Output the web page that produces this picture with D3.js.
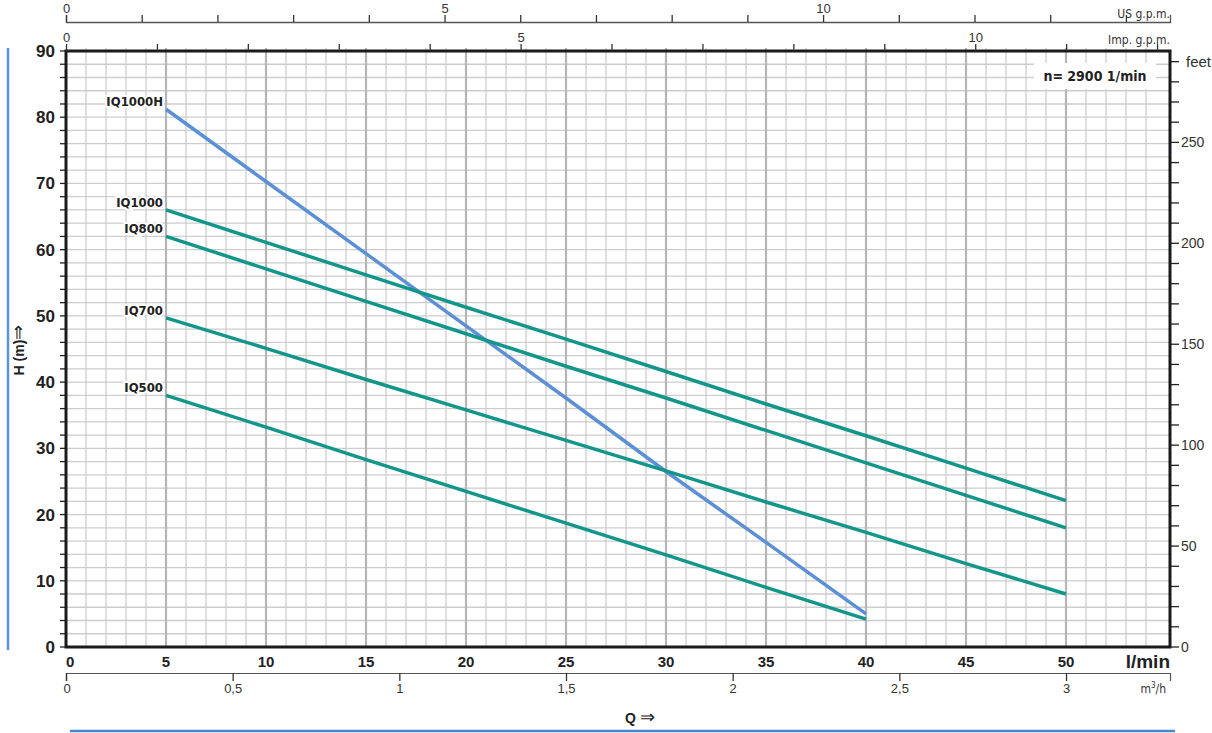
<!DOCTYPE html>
<head>
    <meta charset="utf-8">
    <title>Pump curves</title>
    <script src="https://d3js.org/d3.v7.min.js"></script>
    <style>
        body { margin: 0; background: #fff; }
        text { font-family: "Liberation Sans", Arial, sans-serif; fill: #222; }
        .narrow { font-family: "Liberation Sans Narrow", "DejaVu Sans Condensed", "Liberation Sans", sans-serif; }
    </style>
</head>
<body>
    <div id="container"></div>
    <script>
        //------------------------1. DATA------------------------//
        var flow = [5, 10, 15, 20, 25, 30, 35, 40, 45, 50]     // l/min
        var iq1000h = [81.2, 70.3, 59.4, 48.5, 37.6, 26.5, 15.8, 5.0]
        var iq1000 = [66.0, 61.1, 56.2, 51.3, 46.5, 41.6, 36.7, 31.9, 27.0, 22.1]
        var iq800 = [62.0, 57.1, 52.2, 47.3, 42.4, 37.6, 32.7, 27.8, 22.9, 18.0]
        var iq700 = [49.7, 45.1, 40.4, 35.8, 31.2, 26.6, 21.9, 17.3, 12.6, 8.0]
        var iq500 = [38.0, 33.2, 28.3, 23.5, 18.7, 13.9, 9.0, 4.2]
        var seriesNames = ["IQ1000H", "IQ1000", "IQ800", "IQ700", "IQ500"]
        var seriesValues = [iq1000h, iq1000, iq800, iq700, iq500]
        var seriesColors = ["#5b8fd6", "#12968a", "#12968a", "#12968a", "#12968a"]

        var lminTicks = [0, 5, 10, 15, 20, 25, 30, 35, 40, 45, 50]
        var headTicks = [0, 10, 20, 30, 40, 50, 60, 70, 80, 90]
        var feetLabels = [0, 50, 100, 150, 200, 250]
        var m3hTicks = [0, 0.5, 1, 1.5, 2, 2.5, 3]
        var gpmLabels = [0, 5, 10]

        //------------------------2. SVG------------------------//
        var W = 1212, H = 733
        var margin = { top: 51, right: 42, bottom: 86, left: 66 },
            width = W - margin.left - margin.right,
            height = H - margin.top - margin.bottom

        var qMax = 55.2
        var x = d3.scaleLinear().domain([0, qMax]).range([0, width])
        var y = d3.scaleLinear().domain([0, 90]).range([height, 0])
        var yFeet = d3.scaleLinear().domain([0, 90 / 0.3048]).range([height, 0])
        var xUS = d3.scaleLinear().domain([0, qMax / 3.78541]).range([0, width])
        var xImp = d3.scaleLinear().domain([0, qMax / 4.54609]).range([0, width])
        var xM3 = d3.scaleLinear().domain([0, qMax / 16.6667]).range([0, width])

        var svg = d3.select("#container").append("svg").attr("width", W).attr("height", H)
        var g = svg.append("g").attr("transform", "translate(" + margin.left + "," + margin.top + ")")

        //------------------------3. GRID------------------------//
        var grid = g.append("g")
        grid.selectAll(".hg").data(d3.range(0, 91, 2)).enter().append("line")
            .attr("x1", 0).attr("x2", width)
            .attr("y1", function (d) { return y(d) }).attr("y2", function (d) { return y(d) })
            .attr("stroke", "#cdcdcd").attr("stroke-width", 1.3)
        grid.selectAll(".vg").data(d3.range(1, 55)).enter().append("line")
            .attr("x1", function (d) { return x(d) }).attr("x2", function (d) { return x(d) })
            .attr("y1", -3).attr("y2", height)
            .attr("stroke", function (d) { return d % 5 === 0 ? "#b5b5b5" : "#cdcdcd" })
            .attr("stroke-width", function (d) { return d % 5 === 0 ? 2.2 : 1.3 })

        // speed box
        g.append("rect").attr("x", x(48.4)).attr("y", 12).attr("width", 122).attr("height", 26).attr("fill", "#fff")
        g.append("text").attr("class", "narrow").attr("x", x(48.4) + 61).attr("y", 30)
            .attr("text-anchor", "middle").style("font-weight", "bold").style("font-size", "14px")
            .text("n= 2900  1/min")

        //------------------------4. CURVES------------------------//
        var line = d3.line().x(function (d) { return x(d[0]) }).y(function (d) { return y(d[1]) })
        seriesValues.forEach(function (vals, i) {
            var pts = vals.map(function (v, j) { return [flow[j], v] })
            g.append("path").datum(pts)
                .attr("d", line).attr("fill", "none")
                .attr("stroke", seriesColors[i]).attr("stroke-width", 3.5)
            g.append("text").attr("class", "narrow")
                .attr("x", x(flow[0]) - 3).attr("y", y(vals[0]) - 3)
                .attr("text-anchor", "end")
                .style("font-weight", "bold").style("font-size", "13px")
                .style("paint-order", "stroke").attr("stroke", "#fff").attr("stroke-width", 4)
                .text(seriesNames[i])
        })

        //------------------------5. AXES------------------------//
        // left head axis
        g.selectAll(".lt").data(d3.range(0, 91, 2)).enter().append("line")
            .attr("x1", -6).attr("x2", 0)
            .attr("y1", function (d) { return y(d) }).attr("y2", function (d) { return y(d) })
            .attr("stroke", "#222").attr("stroke-width", 1.3)
        g.selectAll(".ll").data(headTicks).enter().append("text")
            .attr("x", -11).attr("y", function (d) { return y(d) + 6 })
            .attr("text-anchor", "end").style("font-weight", "bold").style("font-size", "17px")
            .text(function (d) { return d })

        // right feet axis
        var rAxis = g.append("g").attr("transform", "translate(" + width + ",0)")
        rAxis.selectAll("line").data(d3.range(0, 291, 10)).enter().append("line")
            .attr("x1", 0).attr("x2", 9)
            .attr("y1", function (d) { return yFeet(d) }).attr("y2", function (d) { return yFeet(d) })
            .attr("stroke", "#222").attr("stroke-width", 1.3)
        rAxis.selectAll("text").data(feetLabels).enter().append("text")
            .attr("x", 11).attr("y", function (d) { return yFeet(d) + 5 })
            .style("font-size", "14px").style("fill", "#333")
            .text(function (d) { return d })
        rAxis.append("text").attr("x", 16).attr("y", yFeet(290) + 5)
            .style("font-size", "15px").style("fill", "#333").text("feet")

        // frame
        g.append("rect").attr("width", width).attr("height", height)
            .attr("fill", "none").attr("stroke", "#1a1a1a").attr("stroke-width", 3)

        // bottom l/min labels
        g.selectAll(".bl").data(lminTicks).enter().append("text")
            .attr("x", function (d) { return x(d) }).attr("y", height + 20)
            .attr("text-anchor", function (d) { return d === 0 ? "start" : "middle" })
            .style("font-weight", "bold").style("font-size", "15px")
            .text(function (d) { return d })
        g.append("text").attr("x", width).attr("y", height + 21).attr("text-anchor", "end")
            .style("font-weight", "bold").style("font-size", "19px").text("l/min")

        // m3/h axis
        var m3 = g.append("g").attr("class", "narrow").attr("transform", "translate(0," + (height + 26) + ")")
            .call(d3.axisBottom(xM3).tickValues(m3hTicks).tickSize(8).tickPadding(3)
                .tickFormat(function (d) { return String(d).replace(".", ",") }))
        m3.select(".domain").attr("stroke", "#555").attr("stroke-width", 1.2)
        m3.selectAll(".tick line").attr("stroke", "#333").attr("stroke-width", 1.3)
        m3.selectAll(".tick text").style("font-size", "13px").style("fill", "#333")
            .attr("text-anchor", function (d) { return d === 0 ? "start" : "middle" }).attr("dx", function (d) { return d === 0 ? -3 : 0 })
        var m3lab = g.append("text").attr("class", "narrow").attr("x", width - 4).attr("y", height + 46)
            .attr("text-anchor", "end").style("font-size", "12px").style("fill", "#333")
        m3lab.append("tspan").text("m")
        m3lab.append("tspan").attr("dy", -5).style("font-size", "8px").text("3")
        m3lab.append("tspan").attr("dy", 5).text("/h")

        // Imp g.p.m. axis on the top frame
        var imp = g.append("g").attr("class", "narrow")
            .call(d3.axisTop(xImp).tickValues(d3.range(0, 13)).tickSize(7).tickPadding(2)
                .tickFormat(function (d) { return gpmLabels.indexOf(d) >= 0 ? d : "" }))
        imp.select(".domain").remove()
        imp.selectAll(".tick line").attr("stroke", "#333").attr("stroke-width", 1.3)
        imp.selectAll(".tick text").style("font-size", "13px").style("fill", "#333")
        g.append("text").attr("class", "narrow").attr("x", width).attr("y", -7).attr("text-anchor", "end")
            .style("font-size", "12px").style("fill", "#333").text("Imp. g.p.m.")

        // US g.p.m. axis
        var us = g.append("g").attr("class", "narrow").attr("transform", "translate(0,-29)")
            .call(d3.axisTop(xUS).tickValues(d3.range(0, 15)).tickSize(7).tickPadding(2)
                .tickFormat(function (d) { return gpmLabels.indexOf(d) >= 0 ? d : "" }))
        us.select(".domain").attr("stroke", "#555").attr("stroke-width", 1.3)
        us.selectAll(".tick line").attr("stroke", "#333").attr("stroke-width", 1.3)
        us.selectAll(".tick text").style("font-size", "13px").style("fill", "#333")
        g.append("text").attr("class", "narrow").attr("x", width).attr("y", -33).attr("text-anchor", "end")
            .style("font-size", "12px").style("fill", "#333").text("US g.p.m.")

        //------------------------6. TITLES------------------------//
        var hLab = svg.append("text").attr("transform", "translate(24,350) rotate(-90)")
            .attr("text-anchor", "middle").style("font-weight", "bold").style("font-size", "14px")
        hLab.append("tspan").text("H (m)")
        hLab.append("tspan").style("font-size", "18px").style("font-weight", "normal").text("\u21D2")
        var qLab = svg.append("text").attr("x", 640).attr("y", 723).attr("text-anchor", "middle")
            .style("font-weight", "bold").style("font-size", "14px")
        qLab.append("tspan").text("Q ")
        qLab.append("tspan").style("font-size", "18px").style("font-weight", "normal").text("\u21D2")

        // blue guide lines
        svg.append("line").attr("x1", 8).attr("x2", 8).attr("y1", 48).attr("y2", 650)
            .attr("stroke", "#5b95d5").attr("stroke-width", 2.5)
        svg.append("line").attr("x1", 70).attr("x2", 1175).attr("y1", 731).attr("y2", 731)
            .attr("stroke", "#4a86c8").attr("stroke-width", 2.5)
    </script>
</body>
